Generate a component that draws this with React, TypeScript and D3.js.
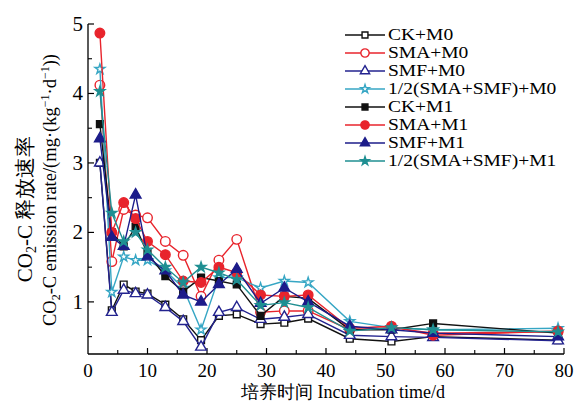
import React from "react";
import * as d3 from "d3";

const days = [2, 4, 6, 8, 10, 13, 16, 19, 22, 25, 29, 33, 37, 44, 51, 58, 79];
const ckM0 = [3.0, 0.88, 1.25, 1.15, 1.12, 0.96, 0.75, 0.45, 0.8, 0.82, 0.68, 0.7, 0.76, 0.47, 0.43, 0.5, 0.45];
const smaM0 = [4.12, 1.58, 2.33, 2.25, 2.21, 1.87, 1.67, 1.08, 1.6, 1.9, 0.85, 0.87, 0.87, 0.6, 0.63, 0.55, 0.57];
const smfM0 = [3.0, 0.85, 1.17, 1.12, 1.1, 0.92, 0.72, 0.35, 0.85, 0.92, 0.75, 0.78, 0.82, 0.52, 0.5, 0.49, 0.44];
const halfM0 = [4.35, 1.14, 1.65, 1.6, 1.6, 1.45, 1.2, 0.6, 1.35, 1.35, 1.2, 1.3, 1.28, 0.72, 0.63, 0.6, 0.62];
const ckM1 = [3.56, 2.0, 1.8, 2.08, 1.7, 1.37, 1.15, 1.35, 1.3, 1.25, 0.8, 1.08, 1.05, 0.6, 0.6, 0.69, 0.55];
const smaM1 = [4.87, 2.0, 2.43, 2.2, 1.87, 1.68, 1.3, 1.28, 1.5, 1.42, 1.1, 1.08, 1.1, 0.62, 0.65, 0.52, 0.58];
const smfM1 = [3.35, 1.93, 1.8, 2.54, 1.65, 1.45, 1.1, 1.0, 1.25, 1.47, 0.98, 1.2, 1.0, 0.65, 0.6, 0.55, 0.5];
const halfM1 = [4.03, 2.28, 1.87, 2.0, 1.75, 1.5, 1.28, 1.5, 1.42, 1.32, 0.95, 0.99, 0.92, 0.58, 0.63, 0.6, 0.57];

const seriesNames = [
  "CK+M0",
  "SMA+M0",
  "SMF+M0",
  "1/2(SMA+SMF)+M0",
  "CK+M1",
  "SMA+M1",
  "SMF+M1",
  "1/2(SMA+SMF)+M1",
];
const seriesValues = [ckM0, smaM0, smfM0, halfM0, ckM1, smaM1, smfM1, halfM1];
const seriesColors = ["#111111", "#e8242c", "#23238f", "#36a6c4", "#111111", "#e8242c", "#1c1c8a", "#1f8f92"];
const seriesShapes = ["square", "circle", "triangle", "star", "square", "circle", "triangle", "star"];
const seriesFilled = [false, false, false, false, true, true, true, true];

const xTicks = [0, 10, 20, 30, 40, 50, 60, 70, 80];
const yTicks = [1, 2, 3, 4, 5];

const W = 574;
const H = 412;
const x = d3.scaleLinear().domain([0, 80]).range([88, 564]);
const y = d3.scaleLinear().domain([0.25, 5]).range([354, 24]);

const symType: Record<string, d3.SymbolType> = {
  square: d3.symbolSquare,
  circle: d3.symbolCircle,
  triangle: d3.symbolTriangle,
  star: d3.symbolStar,
};
const symSize: Record<string, number> = { square: 46, circle: 72, triangle: 50, star: 30 };

function Marker({ shape, cx, cy, color, filled, scale = 1 }: any) {
  const p = d3.symbol().type(symType[shape]).size(symSize[shape] * scale)();
  return (
    <path
      d={p || ""}
      transform={`translate(${cx},${cy})`}
      fill={filled ? color : "#fff"}
      stroke={color}
      strokeWidth={1.4}
    />
  );
}

export default function App() {
  const line = d3
    .line<number>()
    .x((_, i) => x(days[i]))
    .y((v) => y(v));
  const font = "'Liberation Serif', 'Times New Roman', serif";
  const minorX = d3.range(5, 80, 10);
  const minorY = d3.range(0.5, 5, 1);
  return (
    <svg
      width={W}
      height={H}
      style={{ position: "absolute", left: 0, top: 0, background: "#fff" }}
      fontFamily={font}
    >
      {/* axes */}
      <line x1={x(0)} x2={x(80)} y1={354} y2={354} stroke="#000" strokeWidth={1.3} />
      <line x1={88} x2={88} y1={354} y2={y(5)} stroke="#000" strokeWidth={1.3} />
      {xTicks.map((t) => (
        <g key={"xt" + t}>
          {t > 0 && <line x1={x(t)} x2={x(t)} y1={354} y2={348} stroke="#000" strokeWidth={1.2} />}
          <text x={x(t)} y={377} fontSize={19} textAnchor="middle">
            {t}
          </text>
        </g>
      ))}
      {minorX.map((t) => (
        <line key={"xm" + t} x1={x(t)} x2={x(t)} y1={354} y2={350} stroke="#000" strokeWidth={1.1} />
      ))}
      {yTicks.map((t) => (
        <g key={"yt" + t}>
          <line x1={88} x2={94} y1={y(t)} y2={y(t)} stroke="#000" strokeWidth={1.2} />
          <text x={83} y={y(t) + 7} fontSize={21} textAnchor="end">
            {t}
          </text>
        </g>
      ))}
      {minorY.map((t) => (
        <line key={"ym" + t} x1={88} x2={92} y1={y(t)} y2={y(t)} stroke="#000" strokeWidth={1.1} />
      ))}
      <text x={343} y={398} fontSize={18} textAnchor="middle">
        培养时间 Incubation time/d
      </text>
      <g transform="translate(32,209) rotate(-90)">
        <text x={0} y={0} fontSize={21} textAnchor="middle">
          CO<tspan fontSize={14} dy={4}>2</tspan>
          <tspan dy={-4}>-C 释放速率</tspan>
        </text>
      </g>
      <g transform="translate(56,190) rotate(-90)">
        <text x={0} y={0} fontSize={18.5} textAnchor="middle">
          CO<tspan fontSize={12} dy={4}>2</tspan>
          <tspan dy={-4}>-C emission rate/(mg·(kg</tspan>
          <tspan fontSize={12} dy={-7}>−1</tspan>
          <tspan dy={7}>·d</tspan>
          <tspan fontSize={12} dy={-7}>−1</tspan>
          <tspan dy={7}>))</tspan>
        </text>
      </g>
      {/* series */}
      {seriesValues.map((vals, si) => (
        <g key={"s" + si}>
          <path d={line(vals) || ""} fill="none" stroke={seriesColors[si]} strokeWidth={1.4} />
          {vals.map((v, i) => (
            <Marker
              key={i}
              shape={seriesShapes[si]}
              cx={x(days[i])}
              cy={y(v)}
              color={seriesColors[si]}
              filled={seriesFilled[si]}
            />
          ))}
        </g>
      ))}
      {/* legend */}
      {seriesNames.map((name, i) => {
        const ly = 35 + i * 18;
        return (
          <g key={"lg" + i}>
            <line x1={345} x2={385} y1={ly} y2={ly} stroke={seriesColors[i]} strokeWidth={1.4} />
            <Marker
              shape={seriesShapes[i]}
              cx={365}
              cy={ly}
              color={seriesColors[i]}
              filled={seriesFilled[i]}
              scale={0.75}
            />
            <text x={388} y={ly + 5.5} fontSize={16} transform={`translate(388,0) scale(1.22,1) translate(-388,0)`}>
              {name}
            </text>
          </g>
        );
      })}
    </svg>
  );
}
